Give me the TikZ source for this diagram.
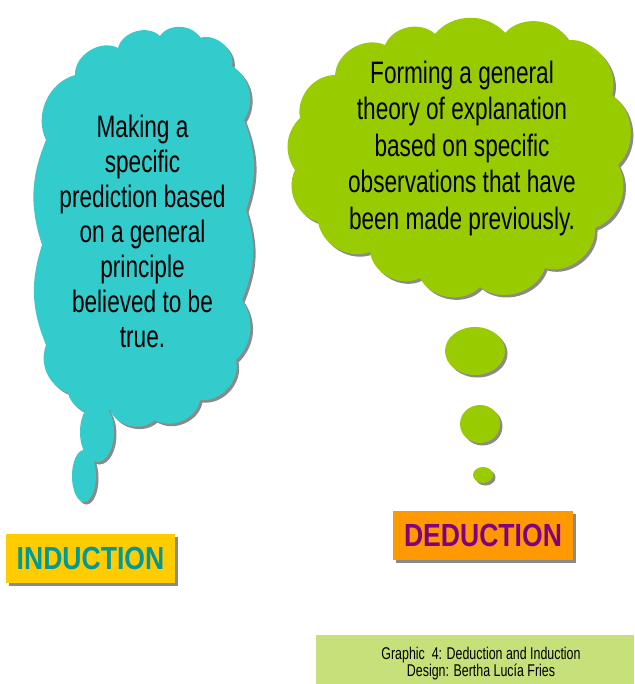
\documentclass[tikz,border=0pt]{standalone}
\usepackage{fontspec}
\setmainfont{Liberation Sans}
\newfontfamily\cloudfont[FakeStretch=0.73]{Liberation Sans}
\newfontfamily\labfont[FakeStretch=0.83]{Liberation Sans}
\usetikzlibrary{shadows}
\definecolor{cyanc}{HTML}{33CCCC}
\definecolor{greenc}{HTML}{99CC00}
\definecolor{capc}{HTML}{C6E07A}
\definecolor{goldc}{HTML}{FFCC00}
\definecolor{orangec}{HTML}{FF9900}
\definecolor{tealc}{HTML}{009999}
\definecolor{purplec}{HTML}{800080}
\definecolor{shadc}{HTML}{8A8A8A}
\newcommand\CyanCloud[1]{%
  \fill[#1] (46,140) to[bend left=50] (75,75) to[bend left=60] (118,48)
    to[bend left=60] (160,36) to[bend left=60] (200,38) to[bend left=60] (232,66)
    to[bend left=45] (244,120) to[bend left=20] (246,210) to[bend left=20] (242,300)
    to[bend left=40] (236,360) to[bend left=55] (200,400) to[bend left=55] (155,420)
    to[bend left=55] (110,410) to[bend left=55] (68,393) to[bend left=45] (46,345)
    to[bend left=20] (42,245) to[bend left=20] (46,140) -- cycle;
  \fill[#1] (97,432) ellipse [x radius=17, y radius=30];
  \fill[#1] (84,476) ellipse [x radius=12, y radius=26];}
\newcommand\GreenCloud[1]{%
  \fill[#1] (300,118) to[bend left=50] (335,75) to[bend left=55] (385,45)
    to[bend left=55] (435,34) to[bend left=50] (505,33) to[bend left=55] (568,40)
    to[bend left=55] (612,95) to[bend left=50] (618,165) to[bend left=50] (595,228)
    to[bend left=55] (545,268) to[bend left=55] (480,287) to[bend left=55] (420,278)
    to[bend left=55] (370,252) to[bend left=50] (318,222) to[bend left=50] (295,170)
    to[bend left=40] (300,118) -- cycle;
  \fill[#1] (475,351) ellipse [x radius=30, y radius=24];
  \fill[#1] (480,424) ellipse [x radius=20, y radius=19];
  \fill[#1] (483,475) ellipse [x radius=10, y radius=8];}
\begin{document}
\begin{tikzpicture}[x=1pt,y=-1pt,
  cloudtext/.style={inner sep=0pt, align=center, text=black,
    font={\cloudfont\fontsize{31}{35}\selectfont}},
  labbox/.style={inner sep=0pt, font={\labfont\bfseries\fontsize{32}{36}\selectfont},
    drop shadow={shadow xshift=3pt, shadow yshift=-3pt, fill=shadc, opacity=1}},
  captext/.style={inner sep=0pt, align=center, text=black,
    font={\cloudfont\fontsize{17}{17}\selectfont}}]
\useasboundingbox (0,0) rectangle (634,684);
\fill[white] (0,0) rectangle (634,684);
% clouds with shadows
\CyanCloud{shadc, shift={(2.5,2.5)}}
\GreenCloud{shadc, shift={(2.5,2.5)}}
\CyanCloud{cyanc}
\GreenCloud{greenc}
% cloud texts
\node[cloudtext] (indtext) at (142.5,231) {Making a\\specific\\prediction based\\on a general\\principle\\believed to be\\true.};
\node[cloudtext, font={\cloudfont\fontsize{31}{36.5}\selectfont}] (dedtext) at (462,148) {Forming a general\\theory of explanation\\based on specific\\observations that have\\been made previously.};
% labels
\node[labbox, fill=goldc, text=tealc, minimum width=169, minimum height=49] (ind) at (90.5,558.5) {INDUCTION};
\node[labbox, fill=orangec, text=purplec, minimum width=180, minimum height=49] (ded) at (483,535.5) {DEDUCTION};
% caption
\node[fill=capc, inner sep=0pt, minimum width=318, minimum height=49] (capbox) at (475,659.5) {};
\node[captext] (captxt) at (481,664) {Graphic\ \ 4: Deduction and Induction\\Design: Bertha Luc\'{\i}a Fries};
\end{tikzpicture}
\end{document}
